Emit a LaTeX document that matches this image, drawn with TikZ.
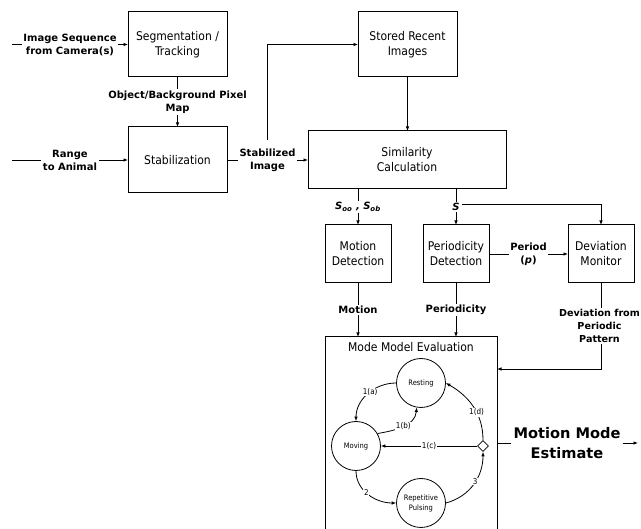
\documentclass[tikz,border=0pt]{standalone}
\usepackage{fontspec}
\setmainfont{DejaVu Sans}
\newfontfamily\condfont{DejaVu Sans Condensed}
\usetikzlibrary{arrows.meta,shapes.geometric}
\begin{document}
\begin{tikzpicture}[x=1pt,y=-1pt,
  box/.style={draw,line width=1pt,inner sep=0pt,outer sep=0pt,align=center,font=\condfont\fontsize{12}{15}\selectfont},
  lbl/.style={fill=white,inner sep=1.5pt,align=center,font=\bfseries\fontsize{10}{13}\selectfont},
  arr/.style={line width=0.8pt,-{Latex[length=4.5pt,width=3.6pt]}},
  ln/.style={line width=0.8pt},
  st/.style={circle,draw,line width=0.8pt,minimum size=49pt,inner sep=0pt,align=center,font=\condfont\fontsize{7.5}{10}\selectfont},
  el/.style={fill=white,inner sep=0.8pt,font=\condfont\fontsize{8}{9}\selectfont},
]
\useasboundingbox (0,0) rectangle (641,529);
\clip (0,0) rectangle (641,529);
% blocks
\node[box,minimum width=99pt,minimum height=65pt] (seg) at (177.5,44.5) {Segmentation /\\Tracking};
\node[box,minimum width=99pt,minimum height=66pt] (stab) at (177.5,160) {Stabilization};
\node[box,minimum width=99pt,minimum height=65pt] (sto) at (407.5,44.5) {Stored Recent\\Images};
\node[box,minimum width=198pt,minimum height=58pt] (sim) at (407,160) {Similarity\\Calculation};
\node[box,minimum width=66pt,minimum height=58pt] (md) at (358,254) {Motion\\Detection};
\node[box,minimum width=66pt,minimum height=58pt] (pd) at (456,254) {Periodicity\\Detection};
\node[box,minimum width=66pt,minimum height=58pt] (dm) at (601,254) {Deviation\\Monitor};
\node[draw,line width=1pt,minimum width=172pt,minimum height=240pt,inner sep=0pt,outer sep=0pt] (mode) at (411,457) {};
\node[font=\condfont\fontsize{12}{15}\selectfont] (modet) at (411,347) {Mode Model Evaluation};
% inputs
\coordinate (in1) at (12,44.5);
\coordinate (in2) at (12,160);
\draw[arr] (in1) -- node[lbl]{Image Sequence\\from Camera(s)} (seg);
\draw[arr] (in2) -- node[lbl]{Range\\to Animal} (stab);
\draw[arr] (seg) -- node[lbl]{Object/Background Pixel\\Map} (stab);
\draw[arr] (stab) -- node[lbl] (stl) {Stabilized\\Image} (sim);
\draw[arr] (stl.north) ++(0,-7) |- (sto);
\draw[arr] (sto) -- (sto |- sim.north);
% similarity outputs
\draw[arr] (sim.south -| md) -- node[lbl]{\itshape S\textsubscript{oo} , S\textsubscript{ob}} (md);
\draw[arr] (sim.south -| pd) -- node[lbl] (sl) {\itshape S} (pd);
\draw[arr] ([yshift=3pt]sl.east) -| (dm);
\draw[arr] (pd) -- node[lbl]{Period\\(\textit{p})} (dm);
\draw[arr] (md) -- node[lbl]{Motion} (md |- mode.north);
\draw[arr] (pd) -- node[lbl]{Periodicity} (pd |- mode.north);
\node[lbl,font=\bfseries\fontsize{9.6}{13}\selectfont] (devl) at (599.5,326) {Deviation from\\Periodic\\Pattern};
\coordinate (dturn) at (601,369);
\draw[ln] (dm.south) -- (dm.south |- devl.north);
\draw[arr] (devl.south -| dturn) -- (dturn) -- (mode.east |- dturn);
% output
\node[font=\bfseries\fontsize{14.6}{20}\selectfont,align=center,inner sep=2pt] (mme) at (567,443) {Motion Mode\\Estimate};
\coordinate (outend) at (638,443);
\draw[ln] (mode.east |- mme) -- (mme);
\draw[arr] (mme) -- (outend);
% state machine
\node[st] (rest) at (421,383) {Resting};
\node[st] (mov) at (356,446) {Moving};
\node[st] (rep) at (421,503) {Repetitive\\Pulsing};
\node[diamond,draw,fill=white,line width=0.8pt,minimum size=11pt,inner sep=0pt] (dia) at (483,446) {};
\draw[arr] (rest.west) to[out=180,in=90] node[el,pos=0.45]{1(a)} (mov.north);
\draw[arr] (mov.30) to[out=10,in=-95] node[el,pos=0.5]{1(b)} (rest.-100);
\draw[arr] (dia.west) -- node[el]{1(c)} (mov.east);
\draw[arr] (dia.north) to[out=90,in=-30] node[el,pos=0.4]{1(d)} (rest.east);
\draw[arr] (mov.south) to[out=-90,in=180] node[el,pos=0.45]{2} (rep.west);
\draw[arr] (rep.east) to[out=15,in=-90] node[el,pos=0.55]{3} (dia.south);
\end{tikzpicture}
\end{document}
